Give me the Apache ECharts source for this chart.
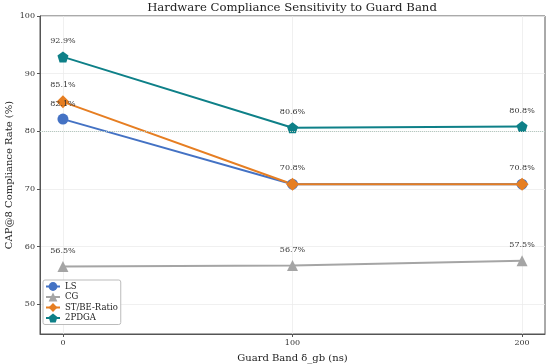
<!DOCTYPE html>
<html><head><meta charset="utf-8">
<script src="https://cdn.jsdelivr.net/npm/echarts@6/dist/echarts.min.js"></script>
<style>html,body{margin:0;padding:0;background:#fff}#c{width:550px;height:364px}</style>
</head><body><div id="c"></div>
<script>
const guardBand = [0, 100, 200];
const lsValues = [82.1, 70.8, 70.8];
const cgValues = [56.5, 56.7, 57.5];
const stbeValues = [85.1, 70.8, 70.8];
const pdgaValues = [92.9, 80.6, 80.8];
const xTicks = [0, 100, 200];
const yTicks = [50, 60, 70, 80, 90, 100];
const refLine = 80;

const FONT = '"DejaVu Serif", serif';
const pentagon = 'path://M0,-1 L0.951,-0.309 L0.588,0.809 L-0.588,0.809 L-0.951,-0.309 Z';
const allVals = [lsValues, cgValues, stbeValues, pdgaValues];

function mk(idx, name, vals, color, symbol, size, extra) {
  return Object.assign({
    name: name, type: 'line',
    data: guardBand.map((x, i) => {
      // hide a label that is drawn again at the same spot by a later series
      const dup = allVals.slice(idx + 1).some(v => v[i] === vals[i]);
      return dup ? {value: [x, vals[i]], label: {show: false}} : {value: [x, vals[i]]};
    }),
    symbol: symbol, symbolSize: size,
    lineStyle: {color: color, width: 2},
    itemStyle: {color: color},
    label: {show: true, position: 'top', distance: 6, fontFamily: FONT, fontSize: 8, color: '#333',
      formatter: p => p.value[1].toFixed(1) + '%'},
    z: 2
  }, extra || {});
}

const chart = echarts.init(document.getElementById('c'));
chart.setOption({
  animation: false,
  title: {text: 'Hardware Compliance Sensitivity to Guard Band', left: 292, top: 1, padding: 0, textAlign: 'center',
    textStyle: {fontFamily: FONT, fontSize: 11.7, fontWeight: 'normal', color: '#222', lineHeight: 14}},
  grid: {left: 40, right: 5, top: 16, bottom: 30, show: true, borderColor: '#555', borderWidth: 1,
    outerBoundsMode: 'none', containLabel: false},
  legend: {
    orient: 'vertical', left: 43, top: 280, itemGap: 1.5, itemWidth: 14, itemHeight: 11,
    padding: [2, 3, 2, 2], backgroundColor: '#fff', borderColor: '#bbb', borderWidth: 1, borderRadius: 2,
    textStyle: {fontFamily: FONT, fontSize: 8.5, color: '#222'},
    data: ['LS', 'CG', 'ST/BE-Ratio', '2PDGA']
  },
  xAxis: {
    type: 'value', min: -10, max: 210,
    name: 'Guard Band δ_gb (ns)', nameLocation: 'middle', nameGap: 19, nameMoveOverlap: false,
    nameTextStyle: {fontFamily: FONT, fontSize: 10, color: '#222'},
    axisLine: {show: true, onZero: false, lineStyle: {color: '#555'}},
    axisTick: {show: true, customValues: xTicks, length: 3, lineStyle: {color: '#555'}},
    axisLabel: {customValues: xTicks, fontFamily: FONT, fontSize: 8, color: '#333', margin: 5},
    splitLine: {show: true, lineStyle: {color: '#ececec', width: 0.8}}
  },
  yAxis: {
    type: 'value', min: 44.8, max: 100,
    name: 'CAP@8 Compliance Rate (%)', nameLocation: 'middle', nameGap: 26, nameMoveOverlap: false,
    nameTextStyle: {fontFamily: FONT, fontSize: 10, color: '#222'},
    axisLine: {show: true, onZero: false, lineStyle: {color: '#555'}},
    axisTick: {show: true, customValues: yTicks, length: 3, lineStyle: {color: '#555'}},
    axisLabel: {customValues: yTicks, fontFamily: FONT, fontSize: 8, color: '#333', margin: 5},
    splitLine: {show: true, lineStyle: {color: '#ececec', width: 0.8}}
  },
  series: [
    mk(0, 'LS', lsValues, '#4472c4', 'circle', 11),
    mk(1, 'CG', cgValues, '#a5a5a5', 'triangle', 11),
    mk(2, 'ST/BE-Ratio', stbeValues, '#e67e22', 'diamond', 13),
    mk(3, '2PDGA', pdgaValues, '#0e8088', pentagon, 11, {
      markLine: {silent: true, symbol: 'none', label: {show: false},
        lineStyle: {color: '#b5c9c0', type: 'dotted', width: 1},
        data: [{yAxis: refLine}]}
    })
  ]
});
</script></body></html>
